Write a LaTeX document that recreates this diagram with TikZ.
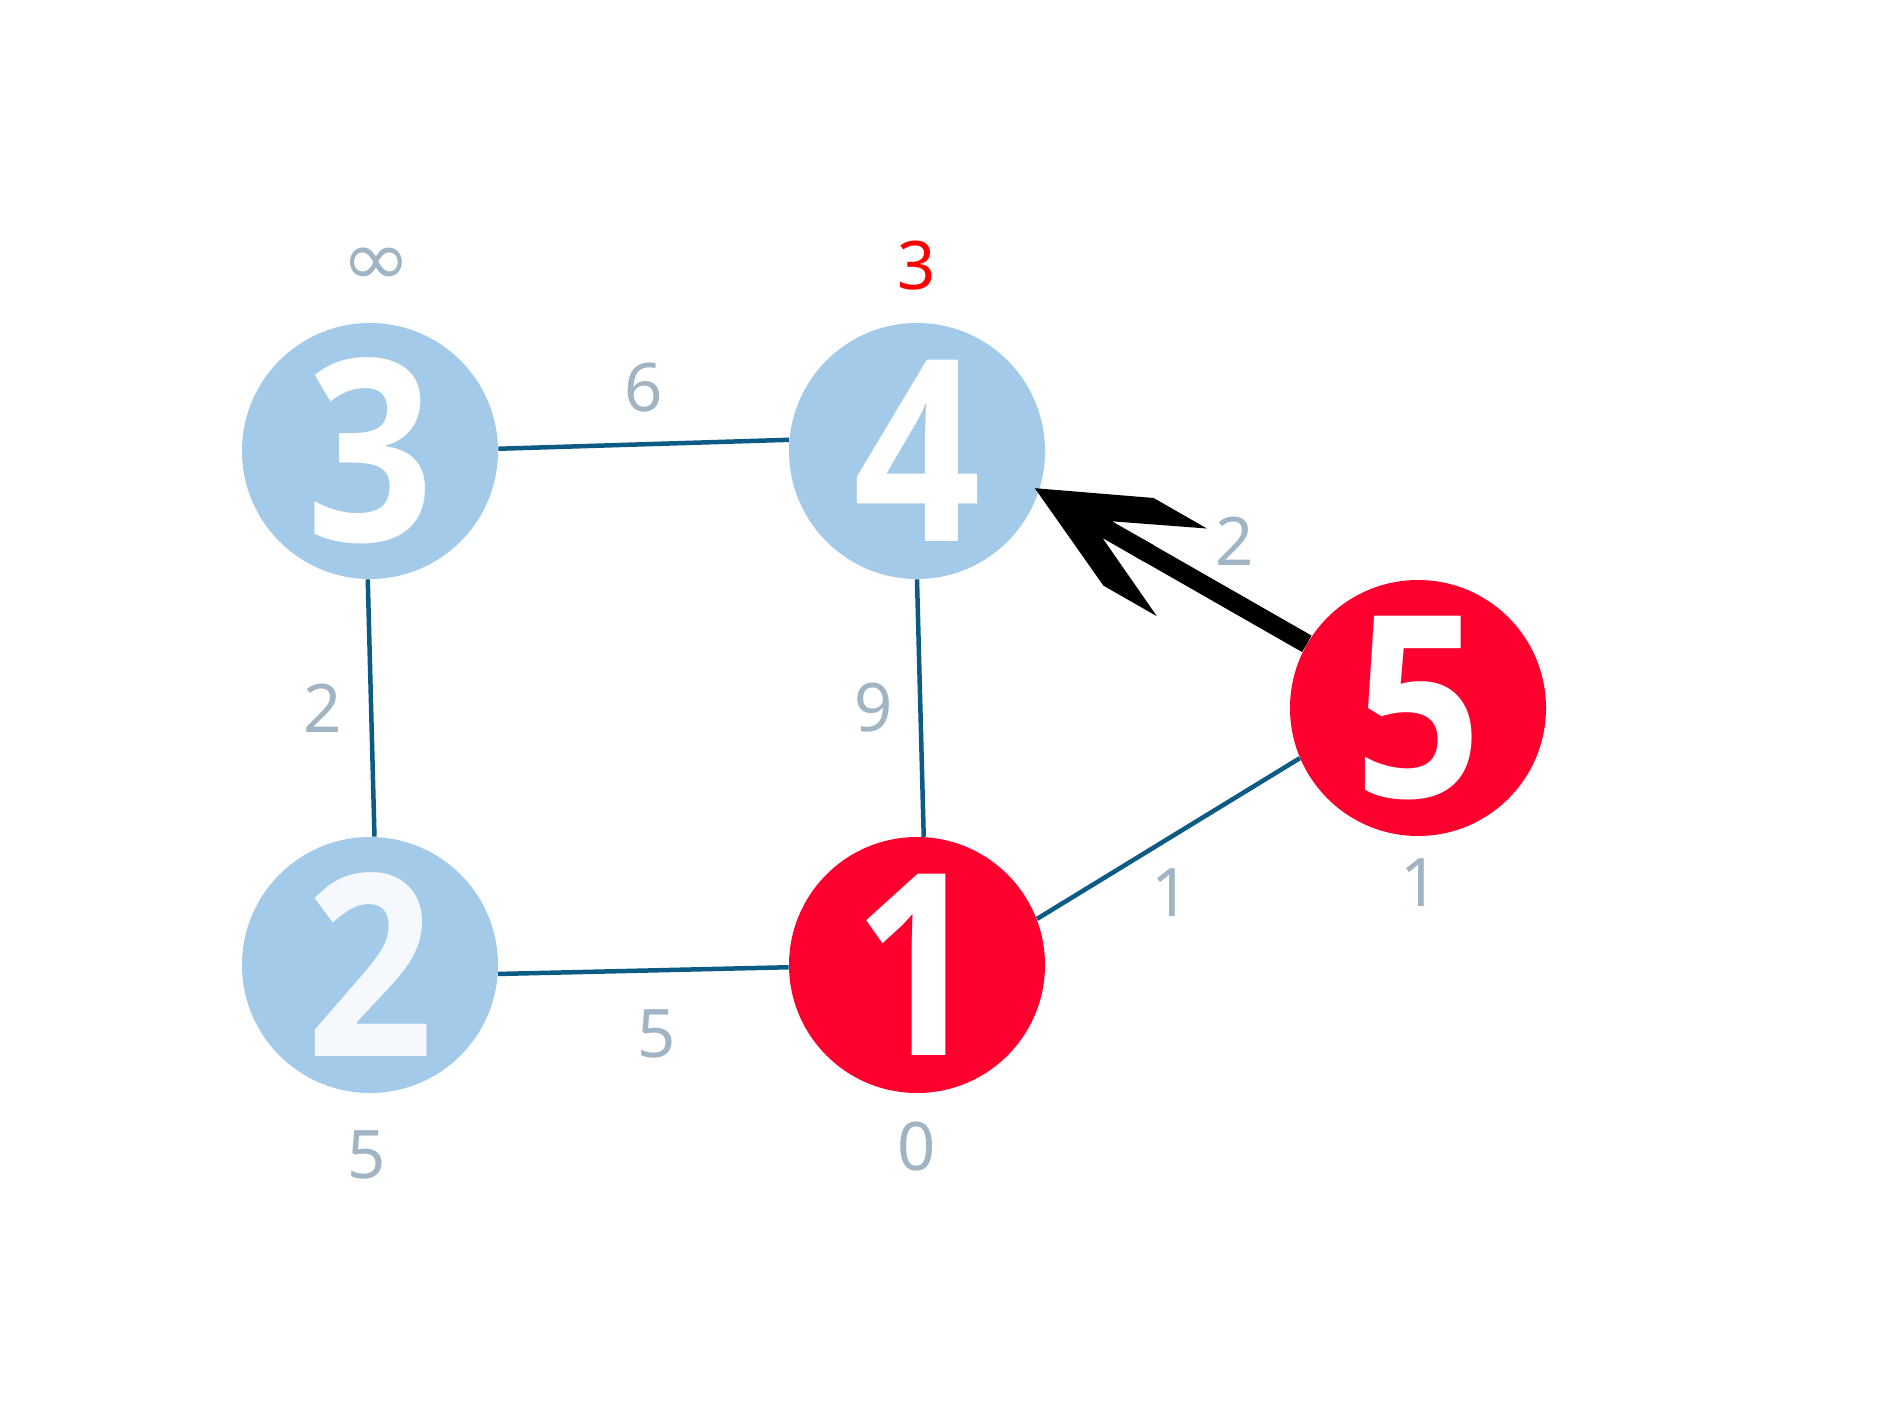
\documentclass[tikz,border=0pt]{standalone}
\usepackage{fontspec}
\usepackage{graphicx}
\setmainfont{Noto Sans}
\newfontfamily\bigdigits{Open Sans}
\newfontfamily\symfont{DejaVu Sans}
\usetikzlibrary{arrows.meta}
\definecolor{nodeblue}{HTML}{A3CAE8}
\definecolor{nodered}{HTML}{FF002E}
\definecolor{edgeblue}{HTML}{0B5B85}
\definecolor{labelgray}{HTML}{A0B4C3}
\definecolor{offwhite}{HTML}{F5F9FD}
\newcommand{\narrowdigit}[1]{\scalebox{0.88}[1]{#1}}
\pgfdeclarearrow{
  name = SweptHead,
  setup code = {
    \pgfarrowssettipend{0pt}
    \pgfarrowssetlineend{-60pt}
    \pgfarrowssetbackend{-84.75pt}
    \pgfarrowsupperhullpoint{0pt}{0pt}
    \pgfarrowsupperhullpoint{-84.75pt}{25.25pt}
  },
  drawing code = {
    \pgfpathmoveto{\pgfpoint{0pt}{0pt}}
    \pgfpathlineto{\pgfpoint{-54pt}{25.25pt}}
    \pgfpathlineto{\pgfpoint{-84.75pt}{25.25pt}}
    \pgfpathlineto{\pgfpoint{-41.75pt}{4.8pt}}
    \pgfpathlineto{\pgfpoint{-66pt}{4.8pt}}
    \pgfpathlineto{\pgfpoint{-66pt}{-4.8pt}}
    \pgfpathlineto{\pgfpoint{-41.75pt}{-4.8pt}}
    \pgfpathlineto{\pgfpoint{-84.75pt}{-25.25pt}}
    \pgfpathlineto{\pgfpoint{-54pt}{-25.25pt}}
    \pgfpathclose
    \pgfusepathqfill
  }
}
\tikzset{
  vnode/.style={circle, minimum size=128pt, inner sep=0pt, text=white,
    font=\bigdigits\bfseries\fontsize{127}{127}\selectfont},
  bluev/.style={vnode, fill=nodeblue},
  redv/.style={vnode, fill=nodered},
  edgeline/.style={draw=edgeblue, line width=2.25pt},
  bestline/.style={draw=black, line width=9.5pt, -{SweptHead[]}, shorten >=-2.5pt},
  wlabel/.style={inner sep=0pt, text=labelgray, font=\fontsize{33.5}{40}\selectfont}
}
\begin{document}
\begin{tikzpicture}[x=0.5pt,y=-0.5pt]
\useasboundingbox (0,0) rectangle (1890,1417);
% nodes
\node[bluev] (n3) at (370,451) {\narrowdigit{3}};
\node[bluev] (n4) at (917,451) {\narrowdigit{4}};
\node[bluev, text=offwhite] (n2) at (370,965) {\narrowdigit{2}};
\node[redv] (n1) at (917,965) {\narrowdigit{1}};
\node[redv] (n5) at (1418,708) {\narrowdigit{5}};
% edges
\draw[edgeline] (n3.1.3) -- (n4.175);
\draw[edgeline] (n3.269) -- (n2.88.7);
\draw[edgeline] (n4.270) -- (n1.87.8);
\draw[edgeline] (n2.356) -- (n1.181);
\draw[edgeline] (n1.21.4) -- (n5.203.5);
\draw[edgeline] (n5.150.4) -- (n4.342.6);
\draw[bestline] (n5.150.4) -- (n4.342.6);
% distance labels
\node[wlabel] (d3) at (376,267) {\symfont\scalebox{1.25}[1.15]{∞}};
\node[wlabel, text=red] (d4) at (917,266) {3};
\node[wlabel] (d2) at (367,1155) {5};
\node[wlabel] (d1) at (917,1147) {0};
\node[wlabel] (d5) at (1420,883) {1};
% weight labels
\node[wlabel] (w34) at (644,388) {6};
\node[wlabel] (w32) at (323,708) {2};
\node[wlabel] (w41) at (874,708) {9};
\node[wlabel] (w21) at (657,1034) {5};
\node[wlabel] (w15) at (1171,893) {1};
\node[wlabel] (w54) at (1235,541) {2};
\end{tikzpicture}
\end{document}
